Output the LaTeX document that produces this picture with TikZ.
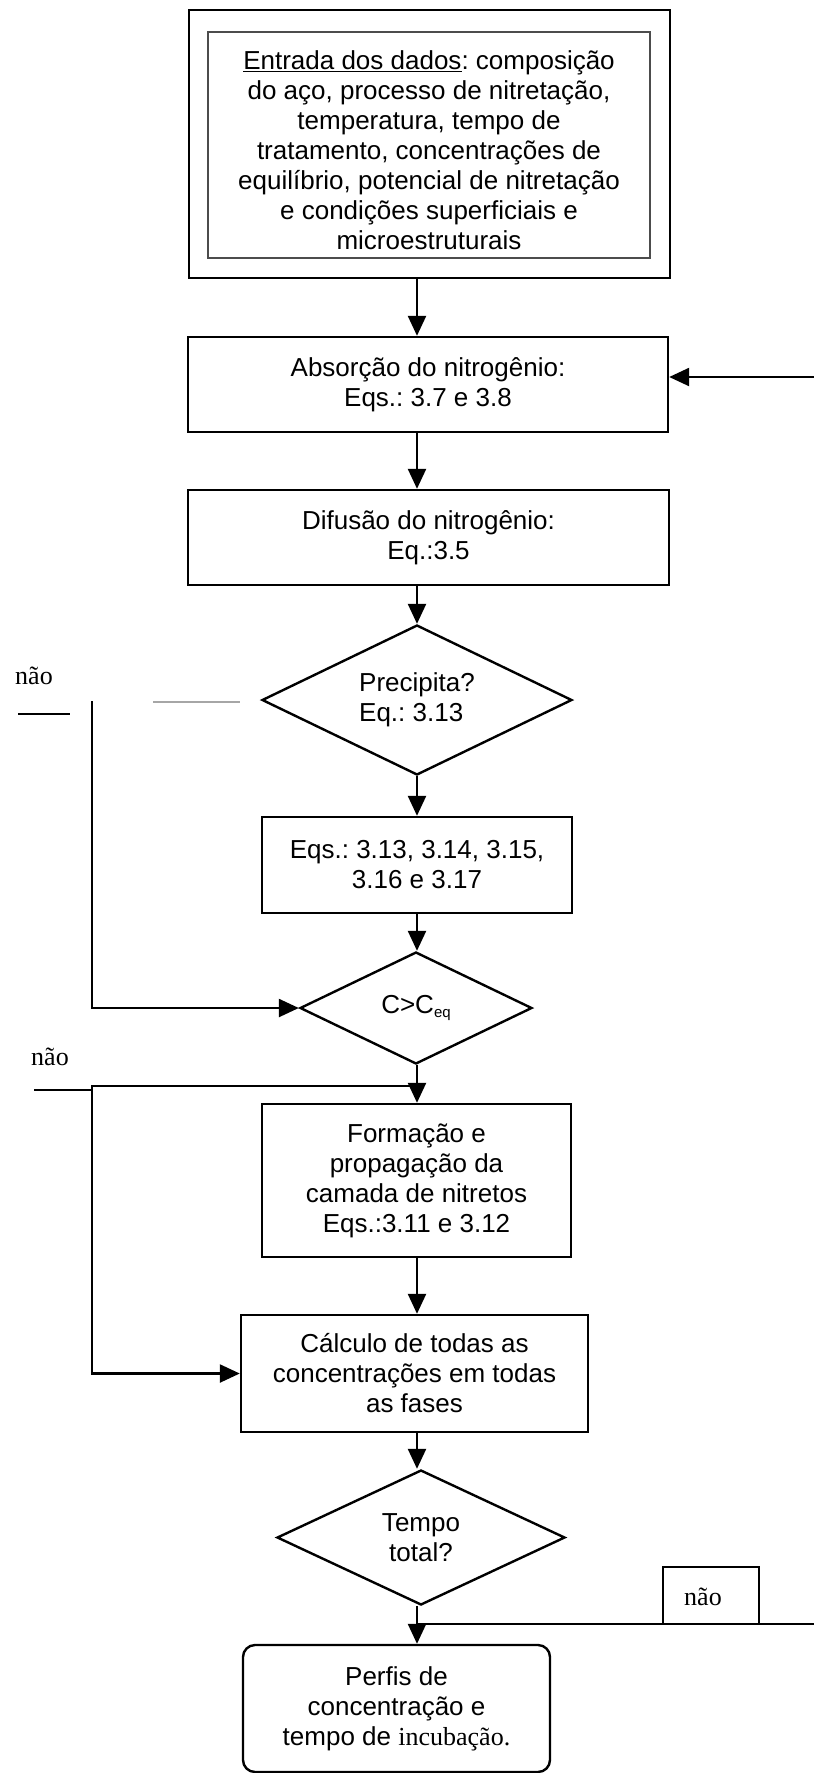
\documentclass[tikz,border=0pt]{standalone}
\usepackage{fontspec}
\setmainfont{Liberation Sans}
\newfontfamily\seriffont{Liberation Serif}
\usetikzlibrary{shapes.geometric,arrows.meta}
\frenchspacing
\begin{document}
\begin{tikzpicture}[x=1pt,y=-1pt,
  every node/.style={font=\fontsize{26}{30}\selectfont},
  box/.style={draw,line width=2.4pt,rectangle,inner sep=0pt,align=center},
  dia/.style={draw,line width=2.4pt,diamond,aspect=2,inner sep=0pt,align=center},
  arr/.style={line width=2.4pt,-{Triangle[length=20pt,width=18pt]}},
  ln/.style={line width=2.4pt},
  lbl/.style={font=\seriffont\fontsize{26}{30}\selectfont,inner sep=0pt}
]
\useasboundingbox (0,0) rectangle (814,1773);
\coordinate (axis) at (417,0);

% top input box
\node[box,line width=2.8pt,minimum width=481pt,minimum height=268pt] (outer) at (429.5,144) {};
\node[draw,line width=1.6pt,black!70,rectangle,inner sep=0pt,minimum width=442pt,minimum height=226pt] (inner) at (429,145) {};
\node[align=center,inner sep=0pt] (intext) at (429,150)
 {\underline{Entrada dos dados}: composição\\do aço, processo de nitretação,\\temperatura, tempo de\\tratamento, concentrações de\\equilíbrio, potencial de nitretação\\e condições superficiais e\\microestruturais};

\node[box,minimum width=480pt,minimum height=95pt] (abs) at (428,384.5) {Absorção do nitrogênio:\\Eqs.: 3.7 e 3.8};
\node[box,minimum width=481pt,minimum height=95pt] (dif) at (428.5,537.5) {Difusão do nitrogênio:\\Eq.:3.5};
\node[dia,align=left,minimum width=310pt,minimum height=150pt] (prec) at (417,700) {Precipita?\\Eq.: 3.13};
\node[box,minimum width=310pt,minimum height=96pt] (eqs) at (417,865) {Eqs.: 3.13, 3.14, 3.15,\\3.16 e 3.17};
\node[dia,minimum width=232pt,minimum height=112pt] (ceq) at (416,1008) {C>C\raisebox{-0.35ex}{\fontsize{15}{15}\selectfont eq}};
\node[box,minimum width=309pt,minimum height=153pt] (form) at (416.5,1180.5) {Formação e\\propagação da\\camada de nitretos\\Eqs.:3.11 e 3.12};
\node[box,minimum width=347pt,minimum height=117pt] (calc) at (414.5,1373.5) {Cálculo de todas as\\concentrações em todas\\as fases};
\node[dia,minimum width=288pt,minimum height=135pt] (tempo) at (421,1537.5) {Tempo\\total?};
\node[box,rounded corners=12pt,minimum width=307pt,minimum height=127pt] (perfis) at (396.5,1708.5) {Perfis de\\concentração e\\tempo de {\seriffont incubação.}};
\node[draw,line width=1.6pt,rectangle,inner sep=0pt,minimum width=96pt,minimum height=57pt] (naobox) at (711,1595.5) {};
\node[lbl] (nao3) at (703,1597) {não};

% main flow
\draw[arr] (outer.south -| axis) -- (abs.north -| axis);
\draw[arr] (abs.south -| axis) -- (dif.north -| axis);
\draw[arr] (dif.south -| axis) -- (prec.north -| axis);
\draw[arr] (prec.south -| axis) -- (eqs.north -| axis);
\draw[arr] (eqs.south -| axis) -- (ceq.north -| axis);
\draw[arr] (ceq.south -| axis) -- (form.north -| axis);
\draw[arr] (form.south -| axis) -- (calc.north -| axis);
\draw[arr] (calc.south -| axis) -- (tempo.north -| axis);
\draw[arr] (tempo.south -| axis) -- (perfis.north -| axis);

% right loop
\coordinate (rin) at (814,377);
\draw[arr] (rin) -- (rin -| abs.east);
\coordinate (rout) at (814,1624);
\draw[ln] (rout -| axis) -- (rout);

% left loop 1
\node[lbl] (nao1) at (34,676) {não};
\coordinate (s1) at (18,714);
\coordinate (s2) at (70,714);
\draw[ln] (s1) -- (s2);
\coordinate (f1) at (153,702);
\coordinate (f2) at (240,702);
\draw[line width=1.6pt,black!35] (f1) -- (f2);
\coordinate (l1) at (92,701);
\draw[arr] (l1) |- (ceq.west);

% left loop 2
\node[lbl] (nao2) at (50,1057) {não};
\coordinate (l2a) at (34,1090);
\coordinate (l2b) at (92,1086);
\draw[ln] (l2a) -- (l2a -| l2b) -- (l2b) -- (l2b -| axis);
\draw[arr] (l2b) |- (calc.west);
\end{tikzpicture}
\end{document}
